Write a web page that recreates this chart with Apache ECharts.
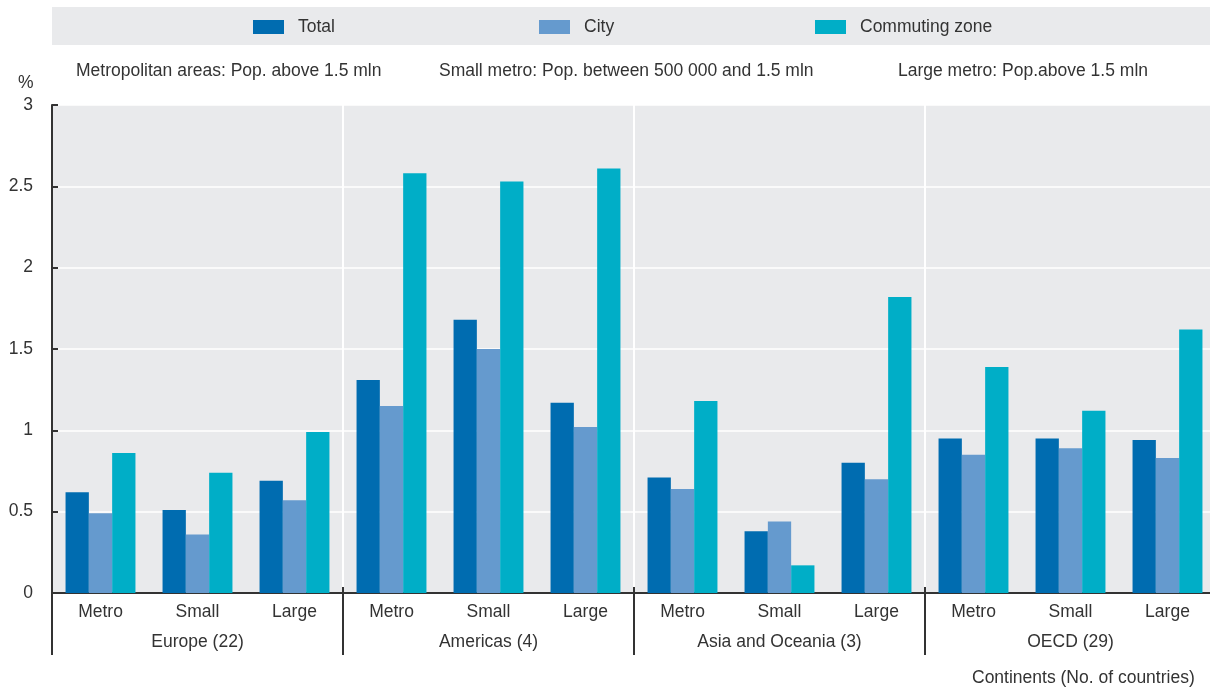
<!DOCTYPE html>
<html>
<head>
<meta charset="utf-8">
<script src="https://cdn.jsdelivr.net/npm/echarts@6/dist/echarts.min.js"></script>
<style>
  html, body { margin: 0; padding: 0; background: #ffffff; overflow: hidden; width: 1210px; height: 692px; }
  #chart { width: 1216px; height: 692px; }
</style>
</head>
<body>
<div id="chart"></div>
<script>
// ---- Data ----
const categories = ['Metro', 'Small', 'Large', 'Metro', 'Small', 'Large', 'Metro', 'Small', 'Large', 'Metro', 'Small', 'Large'];
const groups = ['Europe (22)', 'Americas (4)', 'Asia and Oceania (3)', 'OECD (29)'];
const total = [0.62, 0.51, 0.69, 1.31, 1.68, 1.17, 0.71, 0.38, 0.80, 0.95, 0.95, 0.94];
const city = [0.49, 0.36, 0.57, 1.15, 1.50, 1.02, 0.64, 0.44, 0.70, 0.85, 0.89, 0.83];
const commuting = [0.86, 0.74, 0.99, 2.58, 2.53, 2.61, 1.18, 0.17, 1.82, 1.39, 1.12, 1.62];
const seriesNames = ['Total', 'City', 'Commuting zone'];
const notes = ['Metropolitan areas: Pop. above 1.5 mln', 'Small metro: Pop. between 500 000 and 1.5 mln', 'Large metro: Pop.above 1.5 mln'];
const yUnit = '%';
const xTitle = 'Continents (No. of countries)';

// ---- Style ----
const FONT = '"Liberation Sans", Arial, sans-serif';
const TXT = '#333333';
const BG = '#e9eaec';
const colors = ['#006cb0', '#659ace', '#00aec7'];
const FS = 17.5;

const chart = echarts.init(document.getElementById('chart'), null, { renderer: 'canvas', width: 1216, height: 692 });

const legendLefts = [253, 539, 815];
const noteLefts = [76, 439, 898];

const option = {
  animation: false,
  color: colors,
  textStyle: { fontFamily: FONT, color: TXT },
  grid: { left: 52, right: 0, top: 105, bottom: 99, show: true, backgroundColor: BG, borderWidth: 0 },
  legend: seriesNames.map((n, i) => ({
    data: [n],
    left: legendLefts[i],
    top: 18,
    padding: 0,
    icon: 'rect',
    itemWidth: 31,
    itemHeight: 14,
    textStyle: { fontFamily: FONT, fontSize: FS, color: TXT, padding: [0, 0, 0, 9] },
    selectedMode: false
  })),
  graphic: [
    { type: 'rect', z: -1, shape: { x: 52, y: 7, width: 1164, height: 38 }, style: { fill: BG } },
    ...notes.map((t, i) => ({
      type: 'text', left: noteLefts[i], top: 62,
      style: { text: t, font: FS + 'px ' + FONT, fill: TXT }
    })),
    { type: 'text', left: 18, top: 74, style: { text: yUnit, font: FS + 'px ' + FONT, fill: TXT } },
    { type: 'text', left: 972, top: 669, style: { text: xTitle, font: FS + 'px ' + FONT, fill: TXT } }
  ],
  xAxis: [
    {
      type: 'category',
      data: categories,
      position: 'bottom',
      axisLine: { show: true, lineStyle: { color: '#333333', width: 2 } },
      axisTick: { show: false },
      axisLabel: { interval: 0, margin: 10, fontFamily: FONT, fontSize: FS, color: TXT },
      splitLine: { show: false }
    },
    {
      type: 'category',
      data: groups,
      position: 'bottom',
      axisLine: { show: false },
      axisTick: { show: true, interval: 0, length: 62, lineStyle: { color: '#333333', width: 2 } },
      axisLabel: { interval: 0, margin: 40, fontFamily: FONT, fontSize: FS, color: TXT },
      splitLine: { show: true, interval: 0, lineStyle: { color: '#ffffff', width: 2 } }
    },
    {
      type: 'category',
      data: groups,
      position: 'bottom',
      axisLine: { show: false },
      axisTick: { show: true, inside: true, interval: 0, length: 6, lineStyle: { color: '#333333', width: 2 } },
      axisLabel: { show: false },
      splitLine: { show: false }
    }
  ],
  yAxis: {
    type: 'value',
    min: 0,
    max: 3,
    interval: 0.5,
    axisLine: { show: true, lineStyle: { color: '#333333', width: 2 } },
    axisTick: { show: true, inside: true, length: 6, lineStyle: { color: '#333333', width: 2 } },
    axisLabel: { margin: 19, fontFamily: FONT, fontSize: FS, color: TXT },
    splitLine: { show: true, lineStyle: { color: '#ffffff', width: 1.5 } }
  },
  series: [
    { name: seriesNames[0], type: 'bar', data: total, barWidth: 23.3, barGap: '0%', xAxisIndex: 0 },
    { name: seriesNames[1], type: 'bar', data: city, barWidth: 23.3, barGap: '0%', xAxisIndex: 0 },
    { name: seriesNames[2], type: 'bar', data: commuting, barWidth: 23.3, barGap: '0%', xAxisIndex: 0 }
  ]
};

chart.setOption(option);
</script>
</body>
</html>
